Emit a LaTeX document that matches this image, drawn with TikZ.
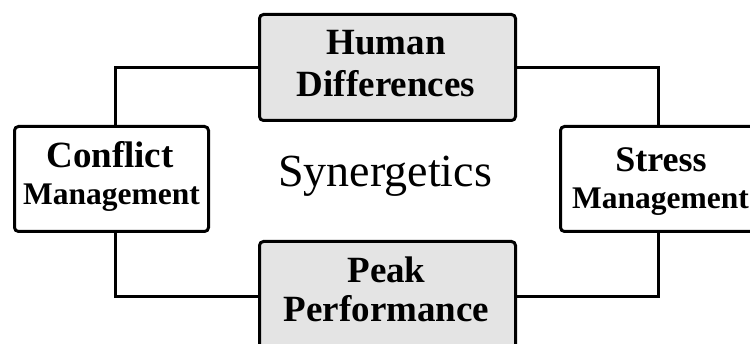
\documentclass[tikz,border=0pt]{standalone}
\usepackage{fontspec}
\setmainfont{Liberation Serif}
\definecolor{boxgray}{HTML}{E4E4E4}
\tikzset{
  box/.style={draw=black, line width=3pt, rounded corners=4pt, inner sep=0pt},
  graybox/.style={box, fill=boxgray},
  whitebox/.style={box, fill=white},
  big/.style={font=\bfseries\fontsize{37}{42}\selectfont, anchor=base, inner sep=0pt},
  small/.style={font=\bfseries\fontsize{31.5}{36}\selectfont, anchor=base, inner sep=0pt},
  conn/.style={draw=black, line width=3pt, line join=miter}
}
\begin{document}
\begin{tikzpicture}[x=1pt, y=-1pt]
\useasboundingbox (0,0) rectangle (750,344);
\clip (0,0) rectangle (750,344);
% boxes
\node[graybox, minimum width=256pt, minimum height=106pt] (top) at (387.5,67.5) {};
\node[whitebox, minimum width=194pt, minimum height=105pt] (left) at (111.5,179) {};
\node[whitebox, minimum width=195pt, minimum height=105pt] (right) at (658,179) {};
\node[graybox, minimum width=256pt, minimum height=111pt] (bot) at (387.5,297) {};
% connectors
\draw[conn] (top.west) -| ([xshift=3.5pt]left.north);
\draw[conn] ([xshift=3.5pt]left.south) |- (bot.west);
\draw[conn] (top.east) -| (right.north);
\draw[conn] (right.south) |- (bot.east);
% texts
\node[big] (t1) at (386,55) {Human};
\node[big] (t2) at (386,97) {Differences};
\node[big] (b1) at (386.5,283) {Peak};
\node[big] (b2) at (386.5,322) {Performance};
\node[big] (l1) at (110,168) {Conflict};
\node[small] (l2) at (111.5,205) {Management};
\node[big, font=\bfseries\fontsize{36}{42}\selectfont] (r1) at (661,172) {Stress};
\node[small] (r2) at (660.5,209) {Management};
\node[font=\fontsize{46}{50}\selectfont, anchor=base, inner sep=0pt] (syn) at (385,187) {Synergetics};
\end{tikzpicture}
\end{document}
